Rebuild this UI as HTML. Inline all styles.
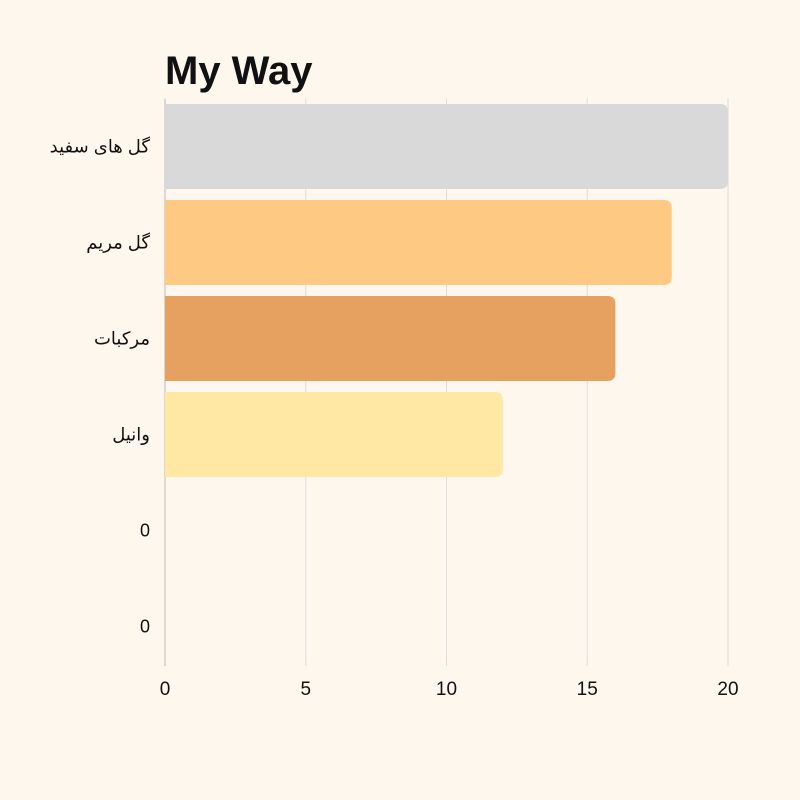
<!DOCTYPE html>
<html><head><meta charset="utf-8"><style>
html,body{margin:0;padding:0;background:#fdf7ee;}
svg{display:block;font-family:"Liberation Sans","Noto Sans CJK SC","DejaVu Sans",sans-serif;}
</style></head><body>
<svg id="chart" width="800" height="800" viewBox="0 0 800 800">
<rect x="0" y="0" width="800" height="800" fill="#fdf7ee"/>
<text x="165" y="84" font-size="40" font-weight="bold" fill="#111">My Way</text>
<g id="grid"></g><g id="bars"></g><g id="labels"></g>
</svg>
<script>
const categories = ["گل های سفید","گل مریم","مرکبات","وانیل","0","0"];
const values = [20,18,16,12,0,0];
const colors = ["#d9d9d9","#fec983","#e6a060","#fee8a3","#ccc","#ccc"];
const ticks = [0,5,10,15,20];
const NS="http://www.w3.org/2000/svg";
const x0=165,x1=728,xMax=20,yTop=98.5,band=96,pad=5.5;
const xs=v=>x0+(x1-x0)*v/xMax;
const ys=i=>yTop+band*i;
const grid=document.getElementById('grid'),bars=document.getElementById('bars'),labels=document.getElementById('labels');
function mk(t,a,p){const e=document.createElementNS(NS,t);for(const k in a)e.setAttribute(k,a[k]);p.appendChild(e);return e;}
ticks.forEach(t=>{
  const l=mk('line',{x1:xs(t),x2:xs(t),y1:yTop,y2:666,stroke:t===0?'#bbb':'#ddd','stroke-width':1},grid);
  
  
  const tx=mk('text',{x:xs(t),y:695,'font-size':19,'text-anchor':'middle',fill:'#111'},labels);
  tx.textContent=t;
  
  
});
categories.forEach((c,i)=>{
  const y=ys(i)+pad,h=band-2*pad,w=xs(values[i])-x0;
  if(w>0){
    const r=Math.min(8,w/2);
    const p=mk('path',{d:`M${x0},${y}H${x0+w-r}Q${x0+w},${y} ${x0+w},${y+r}V${y+h-r}Q${x0+w},${y+h} ${x0+w-r},${y+h}H${x0}Z`,fill:colors[i]},bars);
    
    
  }
  const tx=mk('text',{x:150,y:ys(i)+band/2+6,'font-size':18,'text-anchor':'end',fill:'#111'},labels);
  tx.textContent=c;
  
  
});
</script>
</body></html>
